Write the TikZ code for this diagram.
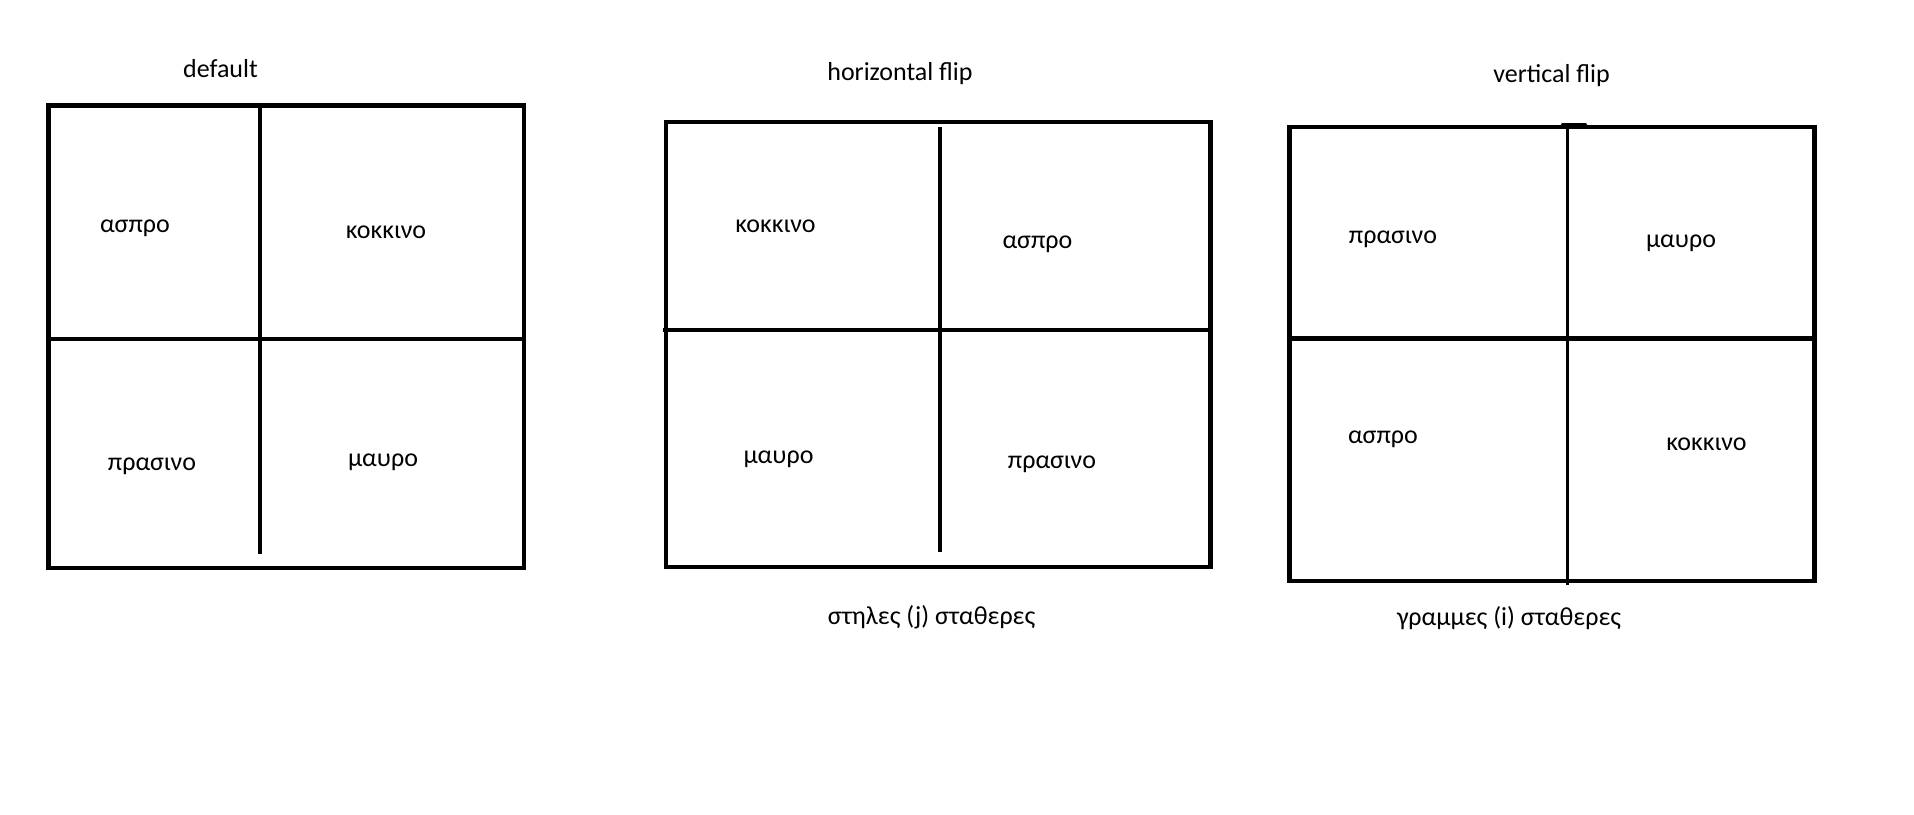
\documentclass[tikz,border=0pt]{standalone}
\usepackage{fontspec}
\setmainfont{Carlito}
\tikzset{
  outer/.style={line width=4.7pt},
  vdiv/.style={line width=3.5pt},
  hdiv/.style={line width=4.5pt},
  lbl/.style={anchor=base, inner sep=0pt, font=\fontsize{26}{30}\selectfont},
}
\begin{document}
\begin{tikzpicture}[x=1pt,y=-1pt]
\useasboundingbox (0,0) rectangle (1914,814);
% ---------- default ----------
\draw[outer] (48.5,105.5) rectangle (524,568);
\draw[vdiv] (260,108) -- (260,554);
\draw[hdiv] (48.5,339) -- (524,339);
\node[lbl] (t1) at (220.5,77) {default};
\node[lbl] (a1) at (135,232) {ασπρο};
\node[lbl] (k1) at (386,238) {κοκκινο};
\node[lbl] (p1) at (152,470) {πρασινο};
\node[lbl] (m1) at (383,466) {μαυρο};
% ---------- horizontal flip ----------
\draw[outer] (666,122) rectangle (1210.5,567);
\draw[vdiv] (940,127) -- (940,551.5);
\draw[hdiv] (663,330) -- (1210.5,330);
\node[lbl] (t2) at (900,80) {horizontal flip};
\node[lbl] (k2) at (775.5,232) {κοκκινο};
\node[lbl] (a2) at (1037.5,248) {ασπρο};
\node[lbl] (m2) at (778.5,463) {μαυρο};
\node[lbl] (p2) at (1052,468) {πρασινο};
\node[lbl] (c2) at (931.5,624) {στηλες (j) σταθερες};
% ---------- vertical flip ----------
\draw[outer] (1289.5,127) rectangle (1814.5,581);
\draw[vdiv] (1567.5,124) -- (1567.5,584.5);
\draw[line width=4pt, line cap=round] (1563,124.5) -- (1585,124.5);
\draw[hdiv] (1287,338.5) -- (1814.5,338.5);
\node[lbl] (t3) at (1551.5,82) {vertical flip};
\node[lbl] (p3) at (1393,243) {πρασινο};
\node[lbl] (m3) at (1681,247) {μαυρο};
\node[lbl] (a3) at (1383,443) {ασπρο};
\node[lbl] (k3) at (1706.5,450) {κοκκινο};
\node[lbl] (c3) at (1509,625) {γραμμες (i) σταθερες};
\end{tikzpicture}
\end{document}
